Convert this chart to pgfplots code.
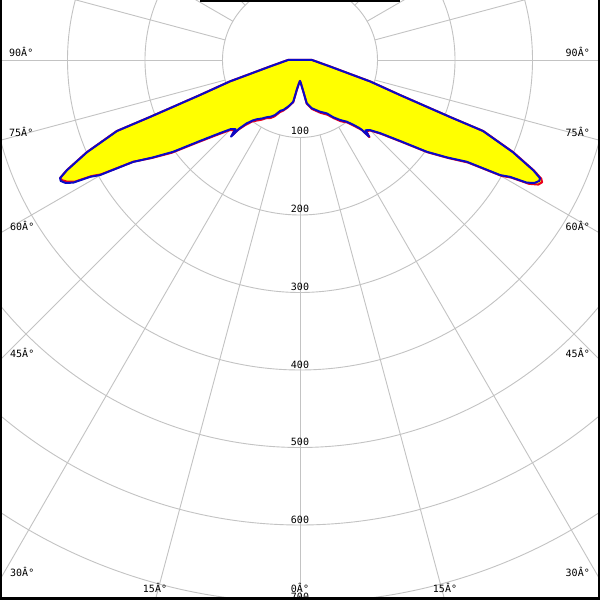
\documentclass[border=0pt]{standalone}
\usepackage{fontspec}
\setmainfont{DejaVu Sans Mono}
\usepackage{pgfplots}
\usepackage{pgfplotstable}
\pgfplotsset{compat=1.18}
\definecolor{gridc}{RGB}{195,195,195}
\definecolor{cblue}{RGB}{10,10,200}
\definecolor{cred}{RGB}{235,0,30}
\definecolor{cyel}{RGB}{255,255,0}

% s = signed angle from nadir (deg), I = intensity
\pgfplotstableread{
s I
0 27
-3 31
-6.3 39
-9.1 54.5
-12.5 59.5
-15 63
-18.5 68
-21 70
-24.4 78
-27 82
-30.2 85.5
-33 90
-36.1 94.7
-38 99
-40.1 107
-41.5 118
-42 133
-43 122
-45 126
-47.6 140
-51 166
-54.1 202
-56.5 228
-58.6 252.5
-60.1 298
-60.9 310
-61.6 333
-62.4 342
-63.2 346
-63.8 345
-64.7 332.5
-66.6 299.4
-68.8 253
-69.2 207
-70.7 136.7
-73 94.5
-74.4 67
-77.8 39.6
-84 22
-90 15.5
-92 8
-180 0
92 8
90 15.5
84 22
77.8 39.6
74.4 67
73 94.5
70.7 136.7
69.2 207
68.8 253
66.6 299
64.7 333
63.8 345
63.2 346
62.4 342
61.6 333
60.9 310
60.1 298
58.6 252
56.5 228
54.1 202
51 166
47.6 140
45 128
43 124
42 133
41.5 120
41 116
39.4 108
37.1 99.8
33.7 93
30.2 85.5
26.6 77
21.1 71.5
13.6 64
8.8 56.5
6 41
3 32
0 27
}\bluedata

\pgfplotstableread{
s I
0 27
-3 31
-6.3 40
-9.1 55
-12.5 60
-15 64
-18.5 69
-21 72
-24.4 80
-27 84
-30.2 87
-33 92
-36.1 97
-38 101
-40.1 110
-41.5 120
-42 131
-43 124
-45 128
-47.6 142
-51 168
-54.1 204
-56.5 229
-58.6 252
-60.1 296
-60.9 308
-61.6 330
-62.4 339
-63.2 344
-63.8 345
-64.7 333
-66.6 300
-68.8 254
-69.2 208
-70.7 137
-73 95
-74.4 67.5
-77.8 40
-84 22
-90 15.5
-92 8
-180 0
92 8
90 15.5
84 22
77.8 40
74.4 67.5
73 95
70.7 137
69.2 208
68.8 254
66.6 300
64.7 334
63.8 347
63.2 350
62.4 347
61.6 336
60.9 312
60.1 300
58.6 254
56.5 229
54.1 203
51 167
47.6 141
45 129
43 125
42 134
41.5 121
41 118
39.4 110
37.1 101
33.7 95
30.2 87
26.6 79
21.1 73
13.6 65
8.8 57
6 41
3 32
0 27
}\reddata

\tikzset{lab/.style={inner sep=0pt, text height=7.3pt, text depth=0pt, font=\fontsize{10}{12}\selectfont}}

\begin{document}
\begin{tikzpicture}[x=1pt,y=1pt]
\path[use as bounding box] (0,0) rectangle (600,600);
\begin{scope}
\clip (0,0) rectangle (600,600);
\fill[white] (0,0) rectangle (600,600);
\foreach \r in {1,...,9} \draw[gridc, line width=0.9pt] (300,540) circle[radius=77.5*\r];
\foreach \a in {0,15,...,345} \draw[gridc, line width=0.9pt] (300,540) ++(\a:77.5) -- ++(\a:900);

\begin{axis}[at={(0,0)}, anchor=south west, x=0.775pt, y=0.775pt,
  xmin=-387.097, xmax=387.097, ymin=-696.774, ymax=77.419,
  hide axis, clip=true]
\addplot[fill=cyel, draw=none] table[x expr={\thisrow{I}*sin(\thisrow{s})}, y expr={-\thisrow{I}*cos(\thisrow{s})}] {\reddata} -- cycle;
\addplot[fill=cyel, draw=none] table[x expr={\thisrow{I}*sin(\thisrow{s})}, y expr={-\thisrow{I}*cos(\thisrow{s})}] {\bluedata} -- cycle;
\addplot[cred, line width=2pt, line join=round] table[x expr={\thisrow{I}*sin(\thisrow{s})}, y expr={-\thisrow{I}*cos(\thisrow{s})}] {\reddata} -- cycle;
\addplot[cblue, line width=2pt, line join=round] table[x expr={\thisrow{I}*sin(\thisrow{s})}, y expr={-\thisrow{I}*cos(\thisrow{s})}] {\bluedata} -- cycle;
\end{axis}

% radial labels
\foreach \v/\yy in {100/469,200/391,300/313,400/235,500/158,600/80,700/3}
  \node[lab] at (300,\yy) {\v};
% angle labels left
\node[lab, anchor=west] at (9,547) {90Â°};
\node[lab, anchor=west] at (9,467) {75Â°};
\node[lab, anchor=west] at (10,373) {60Â°};
\node[lab, anchor=west] at (10,246) {45Â°};
\node[lab, anchor=west] at (10,27.5) {30Â°};
% angle labels right
\node[lab, anchor=east] at (590,547) {90Â°};
\node[lab, anchor=east] at (590,467) {75Â°};
\node[lab, anchor=east] at (590,373) {60Â°};
\node[lab, anchor=east] at (590,246) {45Â°};
\node[lab, anchor=east] at (590,27.5) {30Â°};
% bottom labels
\node[lab] at (155,11) {15Â°};
\node[lab] at (300,11) {0Â°};
\node[lab] at (445,11) {15Â°};

% frame
\fill[black] (0,0) rectangle (2,600);
\fill[black] (0,0) rectangle (600,3);
\fill[black] (598.4,0) rectangle (600,600);
\fill[black] (200,598) rectangle (400,600);
\end{scope}
\end{tikzpicture}
\end{document}
